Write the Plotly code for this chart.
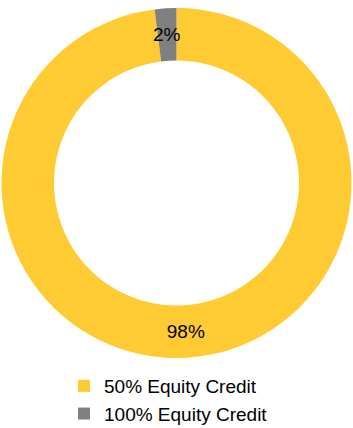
import math
import plotly.graph_objects as go

# Share of equity credit by category
categories = ["50% Equity Credit", "100% Equity Credit"]
shares = [98, 2]
colors = ["#FFCB32", "#808080"]

W, H = 353, 428
FONT = "Liberation Sans, Arial, sans-serif"
HOLE = 0.70

# Donut box in pixels (top/bottom of the ring)
ring_top, ring_bottom = 8, 358
cx = W / 2
cy = (ring_top + ring_bottom) / 2
R = (ring_bottom - ring_top) / 2
r_mid = R * (1 + HOLE) / 2

total = sum(shares)
labels_text = [f"{v / total:.0%}" for v in shares]

# Large slices carry their own label; thin slices get a label on the ring centreline
big = [v / total >= 0.1 for v in shares]

fig = go.Figure(
    go.Pie(
        labels=categories,
        values=shares,
        sort=False,
        direction="clockwise",
        rotation=0,
        hole=HOLE,
        marker=dict(colors=colors, line=dict(width=0)),
        text=labels_text,
        textinfo="text",
        textposition=["inside" if b else "none" for b in big],
        insidetextorientation="horizontal",
        textfont=dict(family=FONT, size=19, color="#000000"),
        domain=dict(x=[0, 1], y=[1 - ring_bottom / H, 1 - ring_top / H]),
        hoverinfo="label+percent",
    )
)

cum = 0
for v, txt, b in zip(shares, labels_text, big):
    mid = (cum + v / 2) / total * 2 * math.pi
    cum += v
    if b:
        continue
    px = cx + r_mid * math.sin(mid)
    py = cy - r_mid * math.cos(mid)
    fig.add_annotation(
        x=px / W, y=1 - py / H, xref="paper", yref="paper",
        text=txt, showarrow=False,
        font=dict(family=FONT, size=19, color="#000000"),
        xanchor="center", yanchor="middle",
    )

fig.update_layout(
    width=W,
    height=H,
    margin=dict(l=0, r=0, t=0, b=0, autoexpand=False),
    paper_bgcolor="white",
    plot_bgcolor="white",
    font=dict(family=FONT, size=19, color="#000000"),
    showlegend=True,
    legend=dict(
        orientation="v",
        x=64 / W,
        xanchor="left",
        y=1 - 367 / H,
        yanchor="top",
        font=dict(family=FONT, size=19, color="#000000"),
        itemwidth=30,
        tracegroupgap=0,
        bgcolor="rgba(0,0,0,0)",
    ),
)

fig.write_html("out.html")
